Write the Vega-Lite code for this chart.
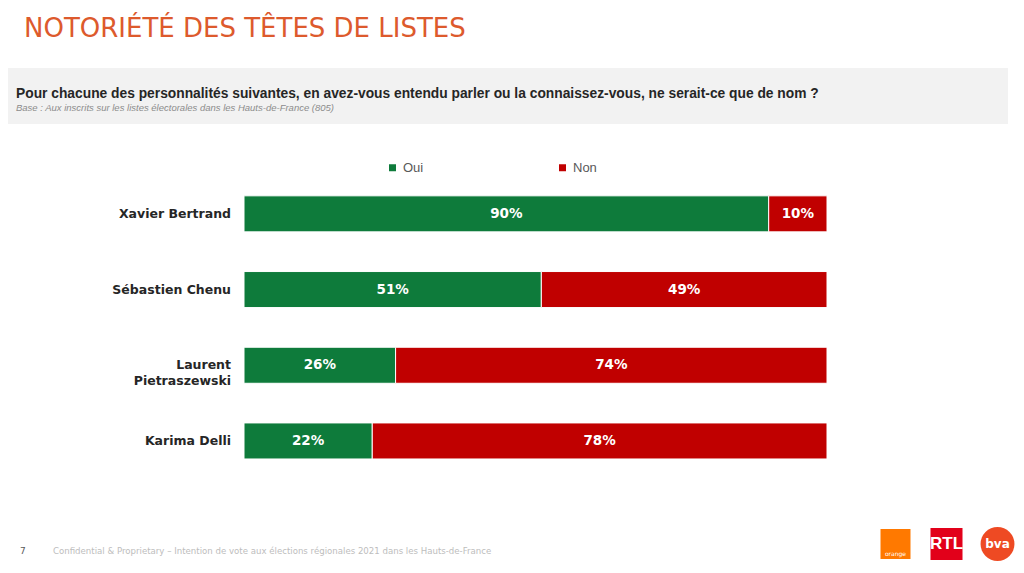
{
  "$schema": "https://vega.github.io/schema/vega-lite/v6.json",
  "background": "#ffffff",
  "padding": {"left": 8, "top": 16, "right": 8, "bottom": 0},
  "title": {"text": "NOTORIÉTÉ DES TÊTES DE LISTES", "anchor": "start", "frame": "bounds", "dx": 16, "fontSize": 26, "font": "DejaVu Sans", "fontWeight": "normal", "color": "#dd5a2d", "offset": 26},
  "spacing": 37,
  "config": {"view": {"stroke": null}},
  "resolve": {"scale": {"x": "independent", "y": "independent", "color": "independent", "size": "independent", "shape": "independent"}, "legend": {"color": "independent"}},
  "vconcat": [
    {
      "width": 1000,
      "height": 56,
      "data": {"values": [{"k": "box"}]},
      "mark": {"type": "rect", "color": "#f2f2f2"},
      "encoding": {},
      "title": {"text": "Pour chacune des personnalités suivantes, en avez-vous entendu parler ou la connaissez-vous, ne serait-ce que de nom ?", "subtitle": "Base : Aux inscrits sur les listes électorales dans les Hauts-de-France (805)", "anchor": "start", "frame": "group", "dx": 8, "offset": -44, "font": "Liberation Sans", "fontSize": 13.8, "fontWeight": "bold", "color": "#262626", "subtitleFont": "Liberation Sans", "subtitleFontSize": 9.5, "subtitleFontStyle": "italic", "subtitleColor": "#8c8c8c", "subtitlePadding": 2}
    },
    {
      "spacing": 13,
      "bounds": "flush",
      "data": {"values": [
        {"person": "Xavier Bertrand", "answer": "Oui", "value": 0.90},
        {"person": "Xavier Bertrand", "answer": "Non", "value": 0.10},
        {"person": "Sébastien Chenu", "answer": "Oui", "value": 0.51},
        {"person": "Sébastien Chenu", "answer": "Non", "value": 0.49},
        {"person": "Laurent Pietraszewski", "answer": "Oui", "value": 0.26},
        {"person": "Laurent Pietraszewski", "answer": "Non", "value": 0.74},
        {"person": "Karima Delli", "answer": "Oui", "value": 0.22},
        {"person": "Karima Delli", "answer": "Non", "value": 0.78}
      ]},
      "resolve": {"scale": {"x": "independent", "y": "independent", "color": "independent"}, "legend": {"color": "independent"}},
      "hconcat": [
        {
          "width": 223,
          "height": 314,
          "transform": [{"filter": "datum.answer == 'Oui'"}],
          "mark": {"type": "text", "align": "right", "baseline": "middle", "font": "DejaVu Sans", "fontWeight": "bold", "fontSize": 12.5, "color": "#262626", "lineHeight": 16},
          "encoding": {
            "y": {"field": "person", "type": "nominal", "sort": ["Xavier Bertrand", "Sébastien Chenu", "Laurent Pietraszewski", "Karima Delli"], "scale": {"type": "band", "paddingInner": 0.524, "paddingOuter": 0.336, "align": 0.39}, "axis": null},
            "x": {"value": "width"},
            "text": {"condition": {"test": "datum.person == 'Laurent Pietraszewski'", "value": ["Laurent", "Pietraszewski"]}, "field": "person", "type": "nominal"}
          }
        },
        {
          "width": 583,
          "height": 314,
          "transform": [
            {"stack": "value", "groupby": ["person"], "sort": [{"field": "answer", "order": "descending"}], "as": ["s0", "s1"]}
          ],
          "layer": [
            {
              "mark": {"type": "bar", "stroke": "#ffffff", "strokeWidth": 1},
              "encoding": {
                "y": {"field": "person", "type": "nominal", "sort": ["Xavier Bertrand", "Sébastien Chenu", "Laurent Pietraszewski", "Karima Delli"], "scale": {"paddingInner": 0.524, "paddingOuter": 0.336, "align": 0.39}, "axis": null},
                "x": {"field": "s0", "type": "quantitative", "scale": {"domain": [0, 1]}, "axis": null},
                "x2": {"field": "s1"},
                "color": {"field": "answer", "type": "nominal", "scale": {"domain": ["Oui", "Non"], "range": ["#0e7b3b", "#c00000"]},
                  "legend": {"title": null, "orient": "none", "legendX": 142, "legendY": -15, "direction": "horizontal", "columnPadding": 132, "symbolType": "square", "symbolSize": 49, "symbolStrokeWidth": 0, "labelFont": "Liberation Sans", "labelFontSize": 13, "labelColor": "#595959", "labelOffset": 4}}
              }
            },
            {
              "transform": [{"fold": ["s0", "s1"], "as": ["edge", "pos"]}],
              "mark": {"type": "text", "color": "#ffffff", "font": "DejaVu Sans", "fontWeight": "bold", "fontSize": 13.5},
              "encoding": {
                "y": {"field": "person", "type": "nominal", "sort": ["Xavier Bertrand", "Sébastien Chenu", "Laurent Pietraszewski", "Karima Delli"]},
                "x": {"aggregate": "mean", "field": "pos", "type": "quantitative"},
                "text": {"field": "value", "type": "quantitative", "format": ".0%"},
                "detail": {"field": "answer"}
              }
            }
          ]
        }
      ]
    },
    {
      "bounds": "flush",
      "spacing": 805,
      "resolve": {"scale": {"x": "independent", "color": "independent", "size": "independent", "shape": "independent"}},
      "hconcat": [
        {
          "width": 57,
          "height": 30,
          "data": {"values": [
            {"k": "num", "t": "7"},
            {"k": "conf", "t": "Confidential & Proprietary – Intention de vote aux élections régionales 2021 dans les Hauts-de-France"}
          ]},
          "mark": {"type": "text", "align": "left", "font": "DejaVu Sans", "dy": 7},
          "encoding": {
            "x": {"field": "k", "type": "nominal", "scale": {"type": "point", "domain": ["num", "conf"], "padding": 0.364}, "axis": null},
            "text": {"field": "t"},
            "color": {"field": "k", "type": "nominal", "scale": {"domain": ["num", "conf"], "range": ["#595959", "#bdbdbd"]}, "legend": null},
            "size": {"field": "k", "type": "nominal", "scale": {"domain": ["num", "conf"], "range": [9, 8.6]}, "legend": null}
          }
        },
        {
          "width": 153,
          "height": 30,
          "data": {"values": [{"logo": "orange"}, {"logo": "RTL"}, {"logo": "bva"}]},
          "encoding": {"x": {"field": "logo", "type": "nominal", "scale": {"type": "point", "domain": ["orange", "RTL", "bva"], "padding": 0.5}, "axis": null}},
          "layer": [
            {
              "mark": {"type": "point", "filled": true, "opacity": 1},
              "encoding": {
                "shape": {"field": "logo", "type": "nominal", "scale": {"domain": ["orange", "RTL", "bva"], "range": ["square", "square", "circle"]}, "legend": null},
                "color": {"field": "logo", "type": "nominal", "scale": {"domain": ["orange", "RTL", "bva"], "range": ["#ff7900", "#e2001a", "#ee4a23"]}, "legend": null},
                "size": {"field": "logo", "type": "nominal", "scale": {"domain": ["orange", "RTL", "bva"], "range": [900, 1150, 850]}, "legend": null}
              }
            },
            {
              "transform": [{"filter": "datum.logo == 'orange'"}],
              "mark": {"type": "text", "color": "#ffffff", "font": "DejaVu Sans", "fontSize": 6, "dy": 10},
              "encoding": {"text": {"field": "logo"}}
            },
            {
              "transform": [{"filter": "datum.logo == 'RTL'"}],
              "mark": {"type": "text", "color": "#ffffff", "font": "Liberation Sans", "fontWeight": "bold", "fontSize": 17},
              "encoding": {"text": {"field": "logo"}}
            },
            {
              "transform": [{"filter": "datum.logo == 'bva'"}],
              "mark": {"type": "text", "color": "#ffffff", "font": "DejaVu Sans", "fontWeight": "bold", "fontSize": 12},
              "encoding": {"text": {"field": "logo"}}
            }
          ]
        }
      ]
    }
  ]
}
